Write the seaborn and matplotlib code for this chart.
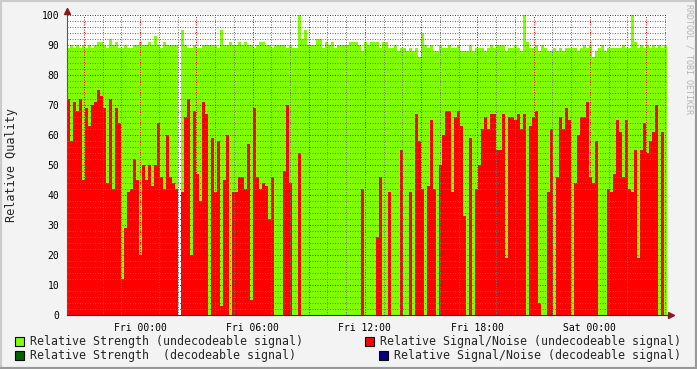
import numpy as np
import pandas as pd
import matplotlib
matplotlib.use('Agg')
import matplotlib.pyplot as plt
from matplotlib.patches import Rectangle
from matplotlib.lines import Line2D
from matplotlib.ticker import MultipleLocator
import seaborn as sns

# Time axis: hours relative to Fri 00:00, one sample every 0.16 h (~9.6 min)
start_hour = -3.9
step_hours = 0.16

# Relative strength (undecodeable signal), None = no data
strength_undecodeable = [
    89, 90, 89, 90, 89, 90, 89, 90, 89, 90, 91, 91, 90, 89, 92, 90, 91, 89, 89, 90,
    89, 89, 90, 90, 91, 90, 90, 91, 90, 93, 90, 89, 91, 90, 90, 90, 90, None, 95, 90,
    89, 89, 90, 89, 89, 90, 90, 90, 90, 90, 89, 95, 90, 90, 91, 90, 90, 91, 90, 91,
    90, 90, 89, 90, 91, 91, 90, 90, 89, 90, 90, 90, 90, 89, 90, 89, 89, 100, 92, 95,
    90, 90, 90, 92, 92, 89, 91, 90, 91, 89, 90, 90, 90, 90, 91, 91, 91, 90, 88, 91,
    90, 91, 91, 91, 89, 91, 91, 89, 89, 90, 88, 89, 89, 88, 89, 88, 89, 86, 94, 90,
    89, 90, 88, 88, 90, 89, 89, 90, 89, 89, 90, 88, 88, 88, 90, 88, 89, 89, 89, 88,
    89, 90, 89, 90, 90, 90, 88, 89, 89, 90, 89, 88, 100, 91, 89, 89, 90, 88, 90, 89,
    88, 88, 89, 88, 89, 88, 89, 89, 89, 89, 88, 89, 90, 89, 90, 86, 88, 89, 90, 88,
    89, 89, 89, 89, 89, 90, 89, 89, 100, 91, 89, 90, 89, 90, 89, 90, 89, 90, 89, 90,
]

# Relative signal/noise (undecodeable signal)
snr_undecodeable = [
    72, 58, 71, 68, 72, 45, 69, 63, 70, 71, 75, 73, 69, 44, 72, 42, 69, 64, 12, 29,
    41, 42, 52, 45, 20, 50, 45, 50, 43, 50, 64, 46, 42, 60, 46, 44, 42, None, 41, 66,
    72, 20, 68, 47, 38, 71, 67, 0, 59, 41, 58, 3, 45, 60, 0, 41, 41, 46, 46, 42,
    57, 5, 69, 46, 42, 44, 43, 32, 46, 0, 0, 0, 48, 70, 44, 0, 0, 54, 0, 0,
    0, 0, 0, 0, 0, 0, 0, 0, 0, 0, 0, 0, 0, 0, 0, 0, 0, 0, 42, 0,
    0, 0, 0, 26, 46, 0, 0, 41, 0, 0, 0, 55, 0, 0, 41, 0, 67, 58, 42, 0,
    43, 65, 42, 0, 50, 60, 68, 68, 41, 66, 68, 63, 33, 0, 59, 0, 42, 50, 62, 66,
    62, 67, 67, 55, 55, 67, 19, 66, 66, 65, 67, 62, 67, 0, 63, 66, 68, 4, 0, 0,
    41, 62, 0, 46, 66, 62, 69, 65, 0, 44, 60, 66, 66, 71, 46, 44, 58, 0, 0, 0,
    42, 41, 47, 65, 61, 46, 65, 42, 41, 55, 19, 55, 64, 54, 58, 61, 70, 0, 61, 0,
]

label_hours = [0, 6, 12, 18, 24]
label_names = ['Fri 00:00', 'Fri 06:00', 'Fri 12:00', 'Fri 18:00', 'Sat 00:00']

legend_names = [
    'Relative Strength (undecodeable signal)',
    'Relative Signal/Noise (undecodeable signal)',
    'Relative Strength  (decodeable signal)',
    'Relative Signal/Noise (decodeable signal)',
]
legend_colors = ['#80FF00', '#FF0000', '#006400', '#000080']

BG = '#F3F3F3'
W, H = 697, 369

sns.set_style('white')
plt.rcParams['font.family'] = ['DejaVu Sans Mono']

n = len(snr_undecodeable)
hours = np.round(start_hour + step_hours * (np.arange(n) + 0.5), 4)
df = pd.DataFrame({
    'hour': hours,
    'strength': np.array(strength_undecodeable, dtype=float),
    'snr': np.array(snr_undecodeable, dtype=float),
})

fig = plt.figure(figsize=(W / 100, H / 100), dpi=100, facecolor=BG)
ax = fig.add_axes([67 / W, 1 - 315 / H, (666.6 - 67) / W, 300 / H])
ax.set_facecolor('white')

bar_kw = dict(native_scale=True, saturation=1, width=1.02, errorbar=None,
              linewidth=0, edgecolor='none', antialiased=False, ax=ax)
sns.barplot(data=df, x='hour', y='strength', color=legend_colors[0], **bar_kw)
sns.barplot(data=df, x='hour', y='snr', color=legend_colors[1], **bar_kw)

end_hour = start_hour + step_hours * n
ax.set_xlim(start_hour, end_hour)
ax.set_ylim(0, 100)
ax.set_xlabel('')
ax.set_ylabel('')

# x ticks: grid every 3 h, labels every 6 h, minor grid every hour
major_x = np.arange(-3, end_hour, 3)
xlabels = [label_names[label_hours.index(h)] if h in label_hours else '' for h in major_x]
ax.set_xticks(major_x, labels=xlabels)
ax.xaxis.set_minor_locator(MultipleLocator(1))
ax.set_yticks(np.arange(0, 101, 10))
ax.yaxis.set_minor_locator(MultipleLocator(2))

ax.set_axisbelow(False)
ax.grid(which='major', color=(1, 0, 0, 0.25), linestyle=(0, (1, 1.5)), linewidth=0.72)
ax.grid(which='minor', color=(0.45, 0.45, 0.45, 0.22), linestyle=(0, (1, 1.5)), linewidth=0.72)

ax.tick_params(which='major', length=2.5, width=0.8, color='#D08080',
               labelsize=7, pad=3, labelcolor='black')
ax.tick_params(which='minor', length=1.5, width=0.8, color='#A0A0A0')

for side in ['top', 'right']:
    ax.spines[side].set_visible(False)
ax.spines['left'].set_color('#555555')
ax.spines['bottom'].set_color('#2B2B55')
ax.spines['left'].set_linewidth(0.8)
ax.spines['bottom'].set_linewidth(0.8)

# axis arrows
ax.plot([0, 0], [1, 1.025], transform=ax.transAxes, color='#555555', lw=0.8, clip_on=False)
ax.plot([0], [1.015], marker='^', ms=4, color='#8B1A1A', transform=ax.transAxes, clip_on=False)
ax.plot([1, 1.012], [0, 0], transform=ax.transAxes, color='#2B2B55', lw=0.8, clip_on=False)
ax.plot([1.008], [0], marker='>', ms=4, color='#8B1A1A', transform=ax.transAxes, clip_on=False)

fig.text(12 / W, 1 - 165 / H, 'Relative Quality', rotation=90, ha='center', va='center', fontsize=8.5)
fig.text(689 / W, 1 - 4 / H, 'RRDTOOL / TOBI OETIKER', rotation=270, ha='center', va='top',
         fontsize=6, color='#B4B4B4')

# legend
legend_pos = [(15, 341, 30), (365, 341, 380), (15, 355, 30), (379, 355, 394)]
for (sx, sy, tx), name, col in zip(legend_pos, legend_names, legend_colors):
    fig.add_artist(Rectangle((sx / W, 1 - (sy + 4.5) / H), 9 / W, 9 / H, transform=fig.transFigure,
                             facecolor=col, edgecolor='black', linewidth=0.8))
    fig.text(tx / W, 1 - sy / H, name, ha='left', va='center', fontsize=8.35)

# 3d border like rrdtool
fig.add_artist(Line2D([0, 1], [1, 1], transform=fig.transFigure, color='#CBCBCB', lw=3))
fig.add_artist(Line2D([0, 0], [0, 1], transform=fig.transFigure, color='#CBCBCB', lw=3))
fig.add_artist(Line2D([0, 1], [0, 0], transform=fig.transFigure, color='#999999', lw=3))
fig.add_artist(Line2D([1, 1], [0, 1], transform=fig.transFigure, color='#999999', lw=3))

fig.savefig('out.png', dpi=100, facecolor=BG)
